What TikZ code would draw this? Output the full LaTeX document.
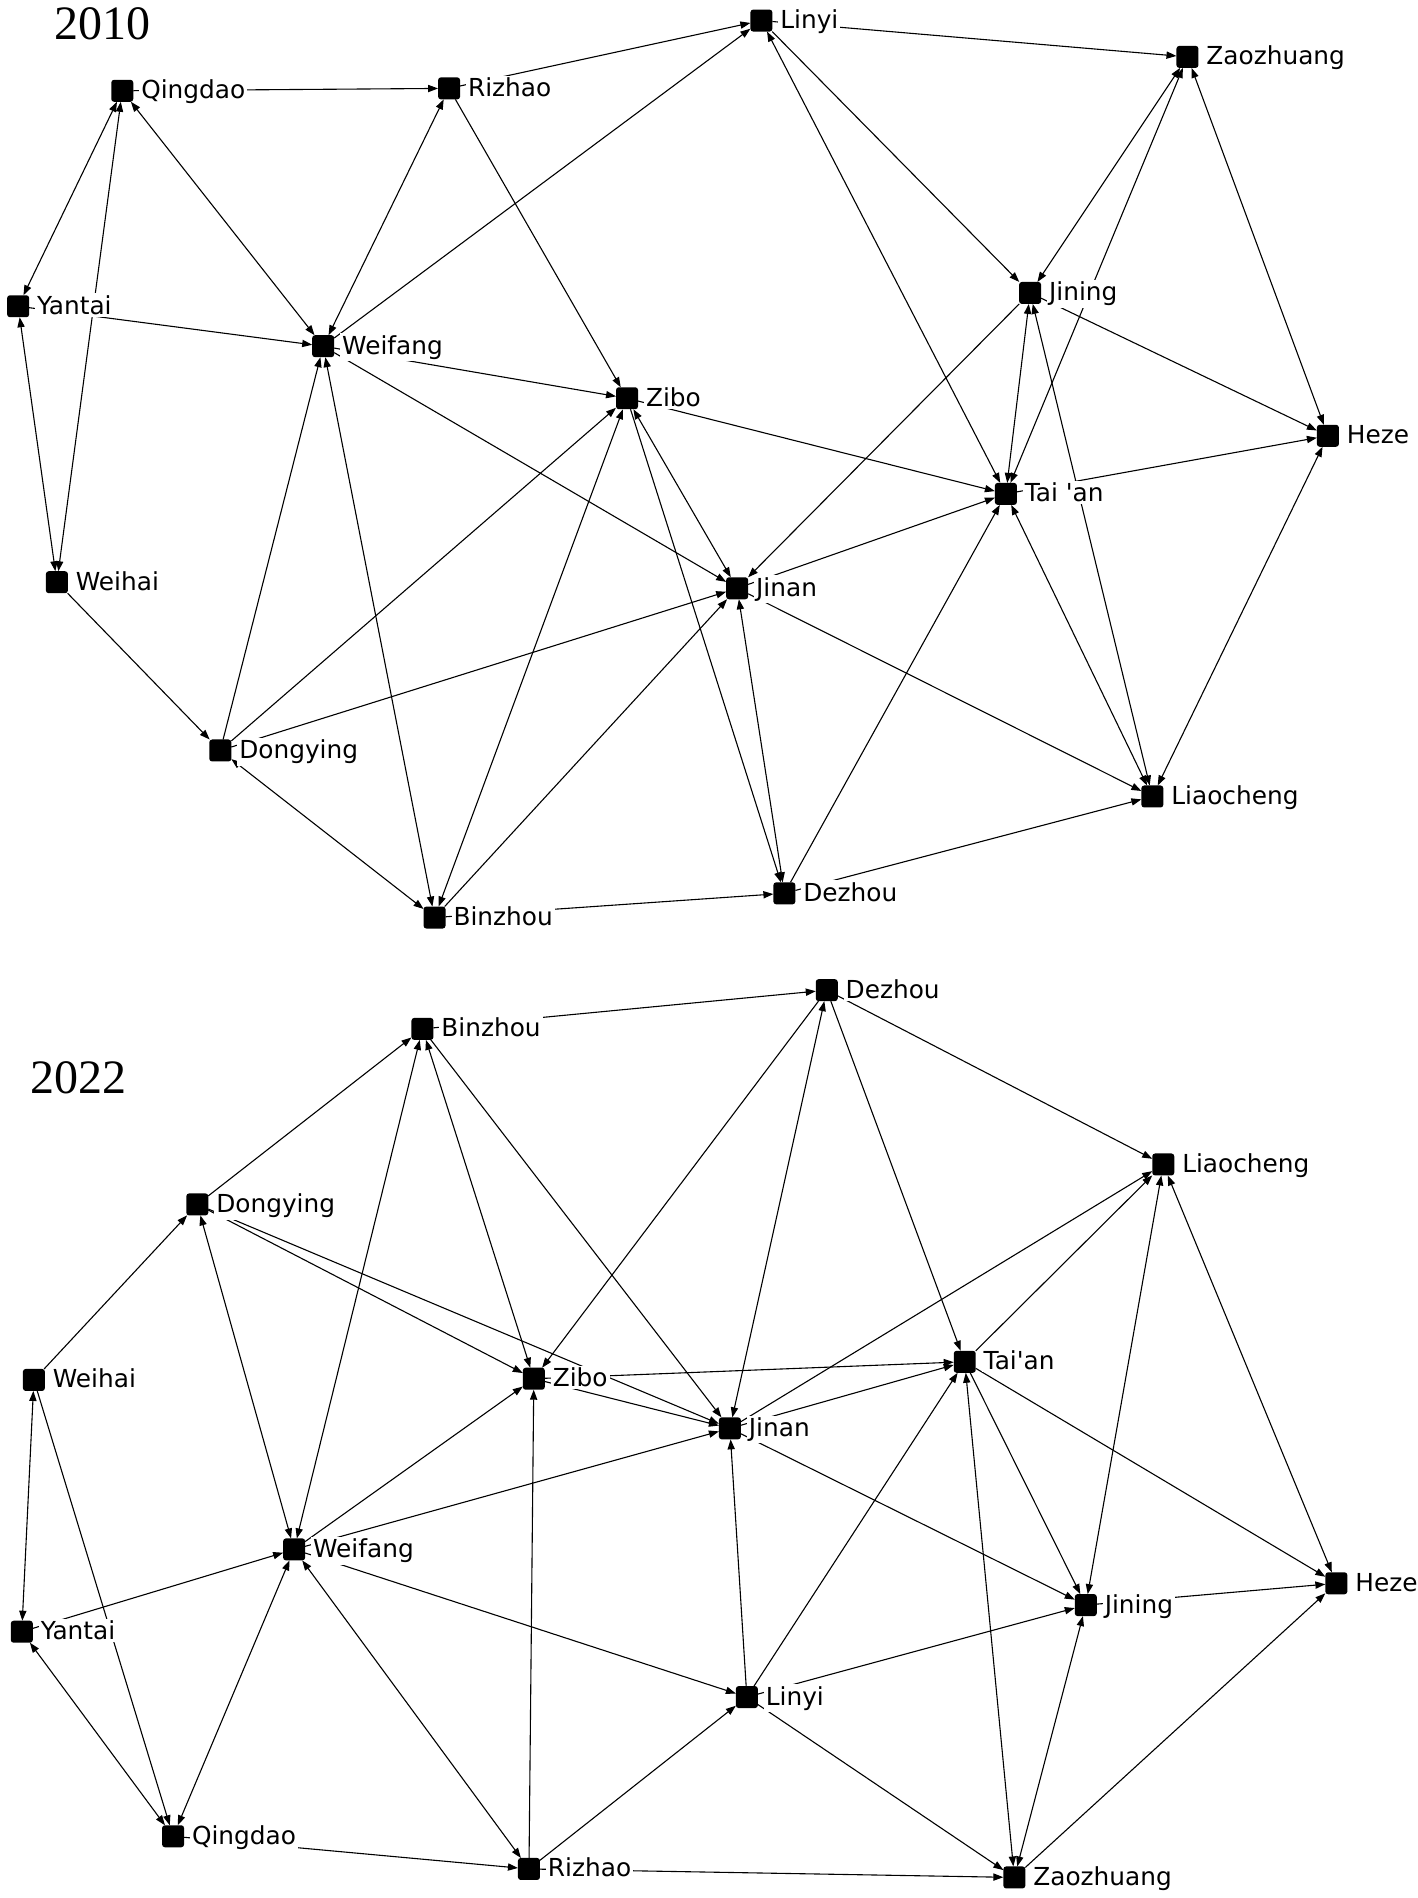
\documentclass[tikz,border=0pt]{standalone}
\usepackage{fontspec}
\newfontfamily\labfont{DejaVu Sans}
\newfontfamily\yearfont{Liberation Serif}
\usetikzlibrary{arrows.meta}
\begin{document}
\begin{tikzpicture}[x=0.6054pt,y=-0.6054pt,
 sq/.style={fill=black, rounded corners=1.4pt, minimum size=11pt, inner sep=0pt, outer sep=0pt},
 lab/.style={anchor=base west, fill=white, inner sep=1pt, font=\labfont\fontsize{12.4pt}{14pt}\selectfont, xshift=8.3pt, yshift=-4pt},
 edgeuni/.style={line width=0.55pt, -{Triangle[length=5pt,width=3.6pt]}},
 edgebi/.style={line width=0.55pt, {Triangle[length=5pt,width=3.6pt]}-{Triangle[length=5pt,width=3.6pt]}},
 yearlab/.style={anchor=base west, inner sep=0pt, font=\yearfont\fontsize{24pt}{28pt}\selectfont}]
\fill[white] (0,0) rectangle (1171,1568);
\useasboundingbox (0,0) rectangle (1171,1568);

% ---------- 2010 ----------
\node[yearlab] (y2010) at (45,33) {2010};
\node[sq] (QdA) at (101,75) {};
\node[sq] (RzA) at (371,73) {};
\node[sq] (LyA) at (629,17) {};
\node[sq] (ZzA) at (981,47) {};
\node[sq] (YtA) at (15,253) {};
\node[sq] (WfA) at (267,286) {};
\node[sq] (ZbA) at (518,329) {};
\node[sq] (JnA) at (851,242) {};
\node[sq] (HzA) at (1097,360) {};
\node[sq] (TaA) at (831,408) {};
\node[sq] (WhA) at (47,481) {};
\node[sq] (JiA) at (609,486) {};
\node[sq] (DyA) at (182,620) {};
\node[sq] (LcA) at (952,658) {};
\node[sq] (BzA) at (359,758) {};
\node[sq] (DzA) at (648,738) {};

\foreach \s/\t in {QdA/RzA, YtA/WfA, WfA/LyA, RzA/LyA, RzA/ZbA, WfA/ZbA, WfA/JiA, DyA/WfA,
  WhA/DyA, DyA/ZbA, DyA/JiA, BzA/JiA, BzA/DzA, ZbA/DzA, ZbA/TaA, JiA/TaA, JiA/LcA,
  JnA/JiA, LyA/JnA, LyA/ZzA, JnA/HzA, TaA/HzA, DzA/TaA, DzA/LcA}
  \draw[edgeuni] (\s) -- (\t);
\foreach \s/\t in {QdA/YtA, QdA/WhA, QdA/WfA, YtA/WhA, WfA/RzA, WfA/BzA, DyA/BzA, BzA/ZbA,
  ZbA/JiA, JiA/DzA, LyA/TaA, ZzA/JnA, ZzA/TaA, ZzA/HzA, JnA/TaA, JnA/LcA, HzA/LcA, TaA/LcA}
  \draw[edgebi] (\s) -- (\t);

\node[lab] (QdAl) at (QdA.center) {Qingdao};
\node[lab] (RzAl) at (RzA.center) {Rizhao};
\node[lab] (LyAl) at (LyA.center) {Linyi};
\node[lab] (ZzAl) at (ZzA.center) {Zaozhuang};
\node[lab] (YtAl) at (YtA.center) {Yantai};
\node[lab] (WfAl) at (WfA.center) {Weifang};
\node[lab] (ZbAl) at (ZbA.center) {Zibo};
\node[lab] (JnAl) at (JnA.center) {Jining};
\node[lab] (HzAl) at (HzA.center) {Heze};
\node[lab] (TaAl) at (TaA.center) {Tai \textquotesingle an};
\node[lab] (WhAl) at (WhA.center) {Weihai};
\node[lab] (JiAl) at (JiA.center) {Jinan};
\node[lab] (DyAl) at (DyA.center) {Dongying};
\node[lab] (LcAl) at (LcA.center) {Liaocheng};
\node[lab] (BzAl) at (BzA.center) {Binzhou};
\node[lab] (DzAl) at (DzA.center) {Dezhou};

% ---------- 2022 ----------
\node[yearlab] (y2022) at (25,903) {2022};
\node[sq] (BzB) at (349,850) {};
\node[sq] (DzB) at (683,818) {};
\node[sq] (DyB) at (163,995) {};
\node[sq] (LcB) at (961,962) {};
\node[sq] (WhB) at (28,1140) {};
\node[sq] (ZbB) at (441,1139) {};
\node[sq] (TaB) at (797,1125) {};
\node[sq] (JiB) at (603,1180) {};
\node[sq] (WfB) at (243,1280) {};
\node[sq] (YtB) at (18,1348) {};
\node[sq] (JnB) at (897,1326) {};
\node[sq] (HzB) at (1104,1308) {};
\node[sq] (LyB) at (617,1402) {};
\node[sq] (QdB) at (143,1517) {};
\node[sq] (RzB) at (437,1544) {};
\node[sq] (ZzB) at (838,1551) {};

\foreach \s/\t in {BzB/DzB, DyB/BzB, BzB/JiB, DyB/ZbB, DyB/JiB, WhB/DyB, WhB/QdB, YtB/WfB,
  WfB/ZbB, WfB/JiB, WfB/LyB, RzB/ZbB, QdB/RzB, RzB/LyB, RzB/ZzB, DzB/ZbB, ZbB/TaB, ZbB/JiB,
  JiB/TaB, JiB/LcB, JiB/JnB, LyB/JiB, LyB/TaB, LyB/JnB, LyB/ZzB, DzB/TaB, DzB/LcB, TaB/LcB,
  TaB/JnB, TaB/HzB, JnB/HzB, ZzB/HzB}
  \draw[edgeuni] (\s) -- (\t);
\foreach \s/\t in {BzB/WfB, BzB/ZbB, DyB/WfB, WhB/YtB, YtB/QdB, WfB/QdB, WfB/RzB, DzB/JiB,
  TaB/ZzB, LcB/JnB, LcB/HzB, JnB/ZzB}
  \draw[edgebi] (\s) -- (\t);

\node[lab] (BzBl) at (BzB.center) {Binzhou};
\node[lab] (DzBl) at (DzB.center) {Dezhou};
\node[lab] (DyBl) at (DyB.center) {Dongying};
\node[lab] (LcBl) at (LcB.center) {Liaocheng};
\node[lab] (WhBl) at (WhB.center) {Weihai};
\node[lab] (ZbBl) at (ZbB.center) {Zibo};
\node[lab] (TaBl) at (TaB.center) {Tai\textquotesingle an};
\node[lab] (JiBl) at (JiB.center) {Jinan};
\node[lab] (WfBl) at (WfB.center) {Weifang};
\node[lab] (YtBl) at (YtB.center) {Yantai};
\node[lab] (JnBl) at (JnB.center) {Jining};
\node[lab] (HzBl) at (HzB.center) {Heze};
\node[lab] (LyBl) at (LyB.center) {Linyi};
\node[lab] (QdBl) at (QdB.center) {Qingdao};
\node[lab] (RzBl) at (RzB.center) {Rizhao};
\node[lab] (ZzBl) at (ZzB.center) {Zaozhuang};
\end{tikzpicture}
\end{document}
